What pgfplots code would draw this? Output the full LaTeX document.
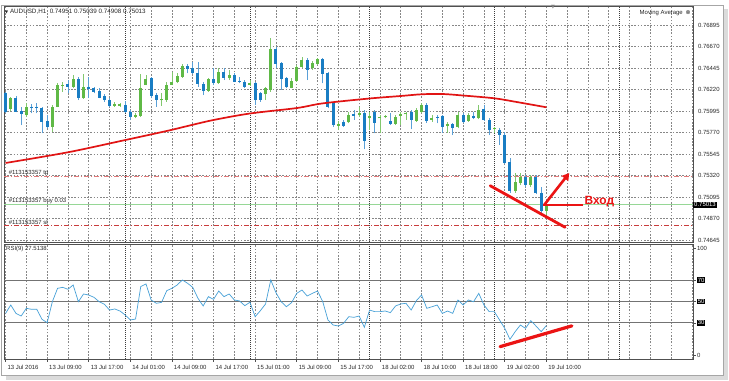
\documentclass[border=0pt]{standalone}
\usepackage{pgfplots}
\pgfplotsset{compat=1.18}
\usepackage{pgfplotstable}
\usepackage{fontspec}
\setmainfont{Liberation Sans}
\newfontfamily\dejavu{DejaVu Sans}
\usetikzlibrary{arrows.meta}

\definecolor{bullc}{RGB}{95,185,70}
\definecolor{bullw}{RGB}{130,200,110}
\definecolor{bearc}{RGB}{25,125,195}
\definecolor{bearw}{RGB}{90,160,215}
\definecolor{mared}{RGB}{225,20,20}
\definecolor{rsic}{RGB}{70,160,215}
\definecolor{gridc}{RGB}{135,135,135}
\definecolor{sepc}{RGB}{60,60,60}
\definecolor{frc}{RGB}{80,80,80}
\definecolor{tpc}{RGB}{225,120,120}
\definecolor{slc}{RGB}{200,60,60}
\definecolor{buyc}{RGB}{150,215,150}
\definecolor{annred}{RGB}{235,20,20}
\definecolor{txtc}{RGB}{40,40,40}

\newcommand{\lv}[1]{{\setlength{\fboxsep}{0.8bp}\colorbox{black}{\textcolor{white}{#1}}}}
\newcommand{\sm}{\fontsize{6}{7}\selectfont}

\pgfplotstableread{
i O H L C
1 0.76016 0.76145 0.75995 0.76128
4 0.75953 0.76075 0.75935 0.76040
9 0.75831 0.76058 0.75778 0.76040
10 0.76040 0.76285 0.76035 0.76267
11 0.76260 0.76302 0.76197 0.76267
13 0.76249 0.76372 0.76232 0.76327
15 0.76128 0.76379 0.76125 0.76249
21 0.76047 0.76092 0.76040 0.76068
22 0.76047 0.76079 0.76037 0.76068
25 0.75935 0.75971 0.75918 0.75953
26 0.75943 0.76379 0.75935 0.76232
27 0.76267 0.76372 0.76262 0.76330
30 0.76107 0.76180 0.76051 0.76117
31 0.76110 0.76302 0.76092 0.76267
32 0.76267 0.76406 0.76262 0.76302
33 0.76295 0.76389 0.76285 0.76364
34 0.76354 0.76484 0.76343 0.76469
39 0.76204 0.76343 0.76197 0.76327
41 0.76285 0.76442 0.76280 0.76400
43 0.76337 0.76424 0.76319 0.76372
47 0.76267 0.76319 0.76260 0.76292
50 0.76170 0.76249 0.76110 0.76232
51 0.76215 0.76755 0.76197 0.76644
55 0.76239 0.76337 0.76232 0.76309
56 0.76309 0.76476 0.76302 0.76459
57 0.76459 0.76563 0.76442 0.76529
59 0.76442 0.76518 0.76424 0.76494
60 0.76484 0.76553 0.76476 0.76539
64 0.75841 0.75890 0.75796 0.75856
66 0.75877 0.75988 0.75866 0.75953
68 0.75953 0.76040 0.75935 0.75971
70 0.75918 0.75988 0.75796 0.75943
72 0.75918 0.75953 0.75761 0.75935
73 0.75929 0.75953 0.75918 0.75943
75 0.75859 0.75953 0.75848 0.75935
76 0.75943 0.75988 0.75848 0.75960
77 0.75960 0.75988 0.75901 0.75971
79 0.75894 0.76023 0.75883 0.76005
80 0.75981 0.76075 0.75971 0.76058
82 0.75901 0.75953 0.75883 0.75918
85 0.75838 0.75883 0.75768 0.75856
87 0.75831 0.75988 0.75814 0.75953
89 0.75894 0.75971 0.75883 0.75953
91 0.75918 0.76058 0.75908 0.76005
94 0.75803 0.75831 0.75761 0.75814
98 0.75154 0.75343 0.75137 0.75255
99 0.75238 0.75343 0.75220 0.75307
101 0.75220 0.75325 0.75203 0.75307
104 0.74951 0.75039 0.74908 0.75013
}\bull

\pgfplotstableread{
i O H L C
0 0.76180 0.76197 0.75971 0.75988
2 0.76134 0.76152 0.75981 0.75988
3 0.75995 0.76040 0.75848 0.75960
5 0.76040 0.76065 0.75971 0.76030
6 0.76040 0.76075 0.75971 0.76023
7 0.76023 0.76040 0.75761 0.75883
8 0.75890 0.75953 0.75814 0.75831
12 0.76274 0.76319 0.76180 0.76249
14 0.76327 0.76354 0.76110 0.76128
16 0.76249 0.76354 0.76134 0.76225
17 0.76232 0.76249 0.76180 0.76197
18 0.76204 0.76232 0.76128 0.76134
19 0.76152 0.76170 0.76092 0.76110
20 0.76110 0.76128 0.76040 0.76047
23 0.76058 0.76100 0.75971 0.75981
24 0.75988 0.76005 0.75901 0.75935
28 0.76337 0.76354 0.76128 0.76155
29 0.76162 0.76180 0.76040 0.76110
35 0.76466 0.76484 0.76389 0.76431
36 0.76442 0.76511 0.76379 0.76389
37 0.76389 0.76511 0.76249 0.76274
38 0.76274 0.76302 0.76162 0.76204
40 0.76327 0.76442 0.76267 0.76292
42 0.76400 0.76442 0.76319 0.76337
44 0.76372 0.76389 0.76295 0.76302
45 0.76309 0.76354 0.76285 0.76295
46 0.76302 0.76319 0.76239 0.76249
48 0.76292 0.76302 0.76058 0.76110
49 0.76180 0.76197 0.76092 0.76110
52 0.76644 0.76668 0.76442 0.76484
53 0.76494 0.76511 0.76215 0.76327
54 0.76343 0.76354 0.76232 0.76249
58 0.76529 0.76546 0.76319 0.76424
61 0.76539 0.76553 0.76285 0.76379
62 0.76389 0.76407 0.76023 0.76040
63 0.76075 0.76092 0.75831 0.75848
65 0.75883 0.75901 0.75831 0.75841
67 0.75960 0.76005 0.75901 0.75946
69 0.75971 0.76005 0.75594 0.75684
71 0.75988 0.76005 0.75761 0.75872
74 0.75890 0.75971 0.75848 0.75856
78 0.75988 0.76005 0.75803 0.75901
81 0.76058 0.76075 0.75872 0.75894
83 0.75935 0.75953 0.75866 0.75918
84 0.75943 0.75953 0.75768 0.75831
86 0.75856 0.75872 0.75743 0.75814
88 0.75953 0.75971 0.75872 0.75883
90 0.75943 0.75988 0.75908 0.75918
92 0.76013 0.76058 0.75894 0.75901
93 0.75901 0.75918 0.75743 0.75796
95 0.75801 0.75814 0.75639 0.75744
96 0.75744 0.75775 0.75440 0.75456
97 0.75461 0.75503 0.75137 0.75154
100 0.75307 0.75325 0.75203 0.75220
102 0.75307 0.75325 0.75126 0.75137
103 0.75137 0.75196 0.74930 0.74951
}\bear

\pgfplotstableread{
i v
0 38.9
1 46.7
2 38.9
3 36.4
4 43.6
5 42.7
6 42.7
7 33.4
8 30.2
9 49.8
10 62.3
11 63.2
12 61.4
13 65.4
14 49.8
15 57.0
16 56.0
17 53.9
18 49.8
19 47.4
20 42.0
21 43.0
22 41.1
23 37.4
24 32.7
25 33.6
26 63.9
27 66.4
28 51.4
29 48.3
30 49.2
31 60.1
32 62.3
33 65.4
34 70.1
35 67.0
36 63.2
37 53.0
38 45.8
39 54.5
40 52.0
41 59.8
42 54.5
43 57.0
44 51.4
45 50.5
46 46.1
47 49.3
48 35.8
49 41.4
50 47.7
51 70.1
52 58.2
53 49.8
54 45.1
55 48.9
56 57.6
57 60.7
58 55.1
59 57.6
60 59.8
61 49.8
62 32.7
63 28.0
64 27.1
65 29.6
66 35.8
67 35.2
68 36.4
69 25.9
70 42.0
71 40.5
72 40.5
73 41.1
74 39.6
75 45.8
76 47.7
77 48.3
78 42.0
79 50.8
80 56.1
81 43.6
82 45.1
83 46.7
84 38.9
85 41.1
86 38.9
87 51.4
88 46.7
89 51.4
90 49.8
91 57.6
92 46.7
93 40.5
94 40.5
95 32.7
96 24.9
97 14.6
98 21.8
99 28.0
100 24.9
101 32.1
102 27.1
103 21.8
104 27.5
}\rsi

\pgfplotsset{
 mt/.style={
  scale only axis, width=689bp,
  xmin=-0.3, xmax=132.2,
  axis line style={draw=frc, line width=0.8bp},
  grid style={draw=gridc, line width=0.6bp, dash pattern=on 1.6bp off 1.6bp},
  tick style={draw=frc, line width=0.6bp},
  tick align=outside,
  ytick pos=right, yticklabel pos=right,
  xtick pos=left,
  ticklabel style={font=\sm, text=txtc},
  scaled y ticks=false,
  /pgf/number format/assume math mode=true,
  extra x ticks={23,47,70,94,118},
  extra x tick labels={},
  extra x tick style={grid=major, major grid style={draw=sepc, line width=0.8bp, dash pattern=on 1bp off 1bp}, major tick length=0pt},
 },
}

\begin{document}
\begin{tikzpicture}[x=1bp,y=1bp]
\path[use as bounding box] (0,0) rectangle (729,380);
\fill[white] (0,0) rectangle (729,380);
\fill[black!14] (6,0.5) rectangle (728,371);
\filldraw[fill=white,draw=black!35,line width=0.8bp] (1,5) rectangle (723,375);

\begin{axis}[mt, at={(4bp,138bp)}, anchor=south west, height=236bp,
  ymin=0.74624, ymax=0.77094,
  xtick={0,4,...,132}, xticklabels={}, xmajorgrids, ymajorgrids,
  major tick length=0pt,
  ytick={0.74645,0.74870,0.75095,0.75320,0.75545,0.75770,0.75995,0.76220,0.76445,0.76670,0.76895},
  yticklabels={0.74645,0.74870,0.75095,0.75320,0.75545,0.75770,0.75995,0.76220,0.76445,0.76670,0.76895},
  yticklabel style={anchor=west, xshift=1.5bp},
]
\addplot[tpc, line width=0.8bp, dash pattern=on 5bp off 2bp on 1bp off 2bp] coordinates {(-0.3,0.75315) (132.2,0.75315)};
\addplot[buyc, line width=0.8bp] coordinates {(-0.3,0.75013) (132.2,0.75013)};
\addplot[slc, line width=0.8bp, dash pattern=on 5bp off 2bp on 1bp off 2bp] coordinates {(-0.3,0.74799) (132.2,0.74799)};

\addplot[bearw, line width=0.9bp, quiver={u=0,v=\thisrow{H}-\thisrow{L}}] table[x=i,y=L] {\bear};
\addplot[bullw, line width=0.9bp, quiver={u=0,v=\thisrow{H}-\thisrow{L}}] table[x=i,y=L] {\bull};
\addplot[bearc, line width=3bp, quiver={u=0,v=\thisrow{C}-\thisrow{O}}] table[x=i,y=O] {\bear};
\addplot[bullc, line width=3bp, quiver={u=0,v=\thisrow{C}-\thisrow{O}}] table[x=i,y=O] {\bull};

\addplot[mared, line width=1.7bp, smooth] coordinates {(0,0.75451) (12,0.75563) (23,0.75691) (31,0.75786) (35,0.75838) (40,0.75901) (47,0.75969) (56,0.76026) (61,0.76075) (70,0.76126) (76,0.76152) (80,0.76170) (84,0.76173) (88,0.76157) (94,0.76128) (98,0.76092) (104,0.76034)};

\node[anchor=south west, inner sep=0.5bp, text=txtc, font=\sm] at (axis cs:0.5,0.75315) {\#113153357 tp};
\node[anchor=south west, inner sep=0.5bp, text=txtc, font=\sm] at (axis cs:0.5,0.75013) {\#113153357 buy 0.03};
\node[anchor=south west, inner sep=0.5bp, text=txtc, font=\sm] at (axis cs:0.5,0.74799) {\#113153357 sl};

\draw[annred, line width=2.8bp, line cap=round] (axis cs:93.2,0.75213) -- (axis cs:107.6,0.74778);
\draw[annred, line width=2.6bp] (axis cs:111.1,0.75013) -- (axis cs:103.4,0.75013);
\draw[annred, line width=2.6bp, -{Triangle[length=7bp,width=8bp]}] (axis cs:103.6,0.75013) -- (axis cs:108.4,0.75346);
\node[anchor=west, text=annred, font=\fontsize{12}{14}\selectfont\bfseries, inner sep=0] at (axis cs:111.3,0.75046) {Вход};
\coordinate (cp) at (axis cs:132.2,0.75013);
\end{axis}

\begin{axis}[mt, at={(4bp,21bp)}, anchor=south west, height=115bp,
  ymin=-3.74, ymax=103.7,
  ytick={0,30,50,70,100}, yticklabels={0,\lv{30},\lv{50},\lv{70},100},
  yticklabel style={anchor=west, xshift=-2bp},
  xtick={0,8,...,104},
  xticklabels={13 Jul 2016, 13 Jul 09:00, 13 Jul 17:00, 14 Jul 01:00, 14 Jul 09:00, 14 Jul 17:00, 15 Jul 01:00, 15 Jul 09:00, 15 Jul 17:00, 18 Jul 02:00, 18 Jul 10:00, 18 Jul 18:00, 19 Jul 02:00, 19 Jul 10:00},
  xticklabel style={anchor=north west, xshift=-1.5bp},
  minor xtick={4,12,20,28,36,44,52,60,68,76,84,92,100,108,112,116,120,124,128,132},
  xmajorgrids, xminorgrids,
  major tick length=2.5bp, minor tick length=0pt,
]
\addplot[black!55, line width=0.8bp] coordinates {(-0.3,70) (132.2,70)};
\addplot[black!55, line width=0.8bp] coordinates {(-0.3,50) (132.2,50)};
\addplot[black!55, line width=0.8bp] coordinates {(-0.3,30) (132.2,30)};
\addplot[rsic, line width=0.7bp] table[x=i,y=v] {\rsi};
\draw[annred, line width=3.2bp, line cap=round] (axis cs:95.1,7.8) -- (axis cs:108.9,27.2);
\end{axis}

\node[anchor=west, fill=black, text=white, inner sep=1bp, font=\sm] at (cp) {0.75013};
\node[anchor=west, inner sep=0, text=txtc, font=\fontsize{6.3}{7}\selectfont] at (5,368) {{\dejavu\fontsize{4}{5}\selectfont ▼}\ AUDUSD,H1\ \ 0.74951 0.75039 0.74908 0.75013};
\node[anchor=east, inner sep=0, text=txtc, font=\sm] at (683,367.3) {Moving Average};
\node[anchor=center, inner sep=0, text=txtc, font=\fontsize{6}{7}\selectfont\dejavu] at (688,367.3) {⊗};
\node[anchor=west, inner sep=0, text=txtc, font=\sm] at (6,131) {RSI(9) 27.5138};
\node[anchor=center, inner sep=0, text=black!50, font=\fontsize{5}{6}\selectfont\dejavu] at (553,373) {▼};
\end{tikzpicture}
\end{document}
